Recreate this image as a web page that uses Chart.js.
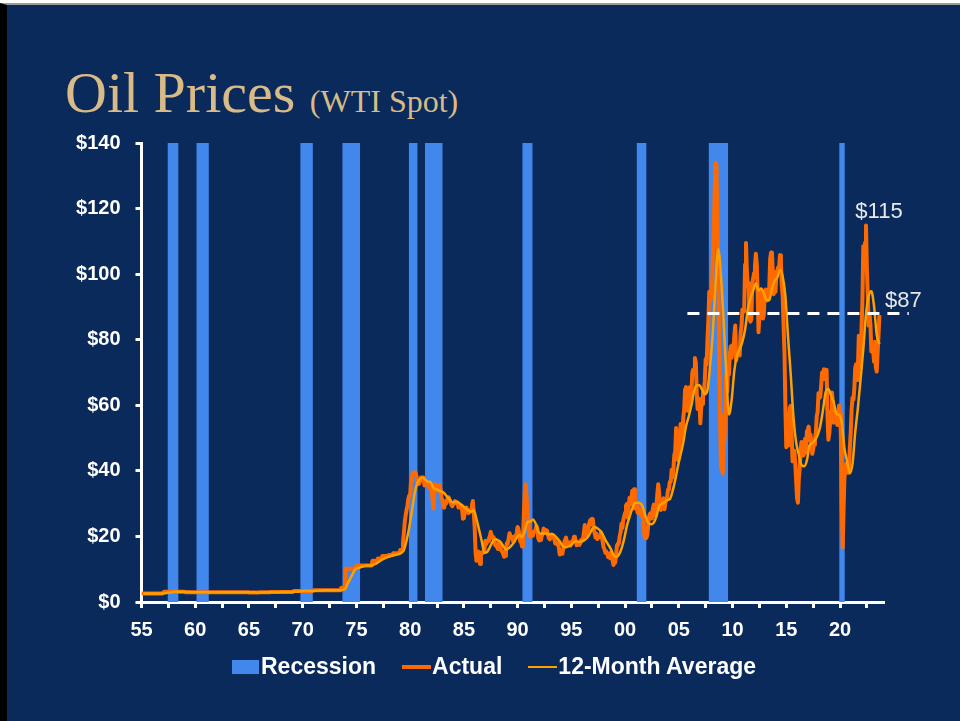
<!DOCTYPE html>
<html>
<head>
<meta charset="utf-8">
<title>Oil Prices (WTI Spot)</title>
<script src="https://cdn.jsdelivr.net/npm/chart.js@4.4.0/dist/chart.umd.min.js"></script>
<style>
  body { margin: 0; background: #fff; width: 960px; height: 721px; overflow: hidden; position: relative; }
  #slide { position: absolute; left: 0; top: 3px; width: 953px; height: 716px; background: #0a2a5c;
           border-left: 7px solid #000; border-top: 2px solid #9a9a9a; }
  #chart { position: absolute; left: 0; top: 0; }
  #title { position: absolute; left: 65px; top: 64px; color: #d8bb87; white-space: nowrap;
           font-family: "Liberation Serif", "Times New Roman", serif; font-size: 58px; line-height: 58px; }
  #title small { font-size: 32px; }
  #legend { position: absolute; left: 232px; top: 655px; color: #fff; white-space: nowrap;
            font: bold 23px/23px "Liberation Sans", Arial, sans-serif; }
  #legend .item { margin-right: 26px; }
  #legend .box, #legend .line { display: inline-block; vertical-align: baseline; }
  #legend .box { width: 27px; height: 14px; margin-right: 2px; }
  #legend .line { width: 29px; margin-right: 1px; }
</style>
</head>
<body>
<div id="slide"></div>
<div id="title">Oil Prices <small>(WTI Spot)</small></div>
<canvas id="chart" width="960" height="721"></canvas>
<div id="legend"></div>
<script>
// x values are decimal years, monthly points start at Jan 1955
const firstYear = 1955;

// recession bands as drawn (decimal years)
const recessionStart = [1957.42, 1960.10, 1969.77, 1973.68, 1979.87, 1981.37, 1990.43, 2001.07, 2007.77, 2019.92];
const recessionEnd   = [1958.45, 1961.27, 1970.95, 1975.35, 1980.70, 1983.03, 1991.40, 2002.00, 2009.60, 2020.45];

// WTI spot, monthly, one row per year, Jan 1955 .. Sep 2023
const actualPrices = [
  2.57,2.57,2.57,2.57,2.57,2.57,2.57,2.57,2.57,2.57,2.57,2.57,
  2.57,2.57,2.57,2.57,2.57,2.57,2.57,2.57,2.57,2.57,2.57,2.57,
  2.57,3.09,3.09,3.09,3.09,3.09,3.09,3.09,3.09,3.09,3.09,3.09,
  3.09,3.09,3.09,3.09,3.09,3.09,3.09,3.09,3.09,3.09,3.09,3.09,
  3.09,2.97,2.97,2.97,2.97,2.97,2.97,2.97,2.97,2.97,2.97,2.97,
  2.97,2.97,2.97,2.97,2.97,2.97,2.97,2.97,2.97,2.97,2.97,2.97, // 60
  2.97,2.97,2.97,2.97,2.97,2.97,2.97,2.97,2.97,2.97,2.97,2.97,
  2.97,2.97,2.97,2.97,2.97,2.97,2.97,2.97,2.97,2.97,2.97,2.97,
  2.97,2.97,2.97,2.97,2.97,2.97,2.97,2.97,2.97,2.97,2.97,2.97,
  2.97,2.97,2.97,2.97,2.97,2.97,2.97,2.97,2.97,2.97,2.97,2.97,
  2.92,2.92,2.92,2.92,2.92,2.92,2.92,2.92,2.92,2.92,2.92,2.92, // 65
  2.94,2.94,2.94,2.94,2.94,2.94,2.94,2.94,2.94,2.94,2.94,2.94,
  3.03,3.03,3.03,3.03,3.03,3.03,3.03,3.03,3.03,3.03,3.03,3.03,
  3.07,3.07,3.07,3.07,3.07,3.07,3.07,3.07,3.07,3.07,3.07,3.07,
  3.07,3.07,3.35,3.35,3.35,3.35,3.35,3.35,3.35,3.35,3.35,3.35,
  3.35,3.35,3.35,3.35,3.35,3.35,3.35,3.35,3.35,3.35,3.35,3.35, // 70
  3.56,3.56,3.56,3.56,3.56,3.56,3.56,3.56,3.56,3.56,3.56,3.56,
  3.56,3.56,3.56,3.56,3.56,3.56,3.56,3.56,3.56,3.56,3.56,3.56,
  3.56,3.56,3.56,3.56,3.56,3.56,3.56,4.31,4.31,4.31,4.31,4.31,
  10.11,10.11,10.11,10.11,10.11,10.11,10.11,10.11,10.11,10.11,10.11,10.11,
  11.16,11.16,11.16,11.16,11.16,11.16,11.16,11.16,11.16,11.16,11.16,11.16, // 75
  11.16,11.16,11.16,11.16,11.16,11.16,12.6,12.6,12.6,12.6,12.6,12.6,
  13.3,13.3,13.3,13.3,13.3,14.0,14.0,14.0,14.0,14.0,14.0,14.0,
  14.3,14.3,14.3,14.3,14.3,14.85,14.85,14.85,14.85,14.85,14.85,14.85,
  14.85,15.85,15.85,15.85,18.1,21.0,24.5,26.5,28.0,29.5,31.5,32.5,
  32.5,37.0,38.0,39.5,39.5,39.5,39.5,38.5,36.5,36.0,36.0,37.0, // 80
  38.0,38.0,38.0,38.0,35.5,36.0,36.0,36.0,36.0,35.0,36.0,35.0,
  33.9,31.6,28.5,33.5,35.9,35.1,34.2,34.0,35.6,35.7,34.2,31.7,
  31.2,29.0,28.8,30.6,30.0,31.0,31.7,31.9,31.1,30.4,29.8,29.2,
  29.7,30.1,30.8,30.6,30.5,30.0,28.8,29.3,29.3,28.8,28.1,25.4,
  25.6,27.3,28.2,28.8,27.6,27.1,27.3,27.8,28.3,29.5,30.8,27.2, // 85
  22.9,15.4,12.6,12.8,15.4,13.4,11.6,15.1,14.9,14.9,15.2,16.1,
  18.7,17.7,18.3,18.6,19.4,20.0,21.4,20.3,19.5,19.8,18.9,17.3,
  17.1,16.8,16.2,17.9,17.4,16.5,15.5,15.5,14.5,13.8,14.0,16.3,
  18.0,17.8,19.4,21.0,20.0,20.0,19.6,18.4,19.6,20.1,19.8,21.1,
  22.9,22.1,20.4,18.4,18.2,16.9,18.6,27.2,33.7,35.9,32.3,27.3, // 90
  25.2,20.5,19.9,20.8,21.2,20.2,21.4,21.7,21.9,23.2,22.5,19.5,
  18.8,19.0,18.9,20.2,20.9,22.4,21.8,21.4,21.9,21.7,20.3,19.4,
  19.1,20.1,20.3,20.3,19.9,19.1,17.9,18.0,17.5,18.2,16.7,14.5,
  15.0,14.8,14.7,16.4,17.9,19.1,19.7,18.4,17.5,17.7,18.1,17.2,
  18.0,18.6,18.5,19.9,19.7,18.5,17.3,18.0,18.2,17.4,18.0,19.0, // 95
  18.9,19.1,21.3,23.5,21.2,20.4,21.3,22.0,24.0,24.9,23.7,25.4,
  25.2,22.2,21.0,19.7,20.8,19.2,19.6,19.9,19.8,21.3,20.2,18.3,
  16.7,16.1,15.0,15.4,14.9,13.7,14.1,13.4,15.0,14.4,12.9,11.3,
  12.5,12.0,14.7,17.3,17.8,17.9,20.1,21.3,23.9,22.6,25.0,26.1,
  27.2,29.4,29.9,25.7,28.8,31.8,29.7,31.3,33.9,33.1,34.4,28.5, // 00
  29.6,29.6,27.2,27.4,28.6,27.6,26.4,27.4,26.2,22.2,19.6,19.4,
  19.7,20.7,24.4,26.3,27.0,25.5,26.9,28.4,29.7,28.9,26.3,29.4,
  32.9,35.9,33.5,28.3,28.1,30.7,30.8,31.6,28.3,30.3,31.1,32.2,
  34.3,34.7,36.7,36.7,40.3,38.0,40.7,44.9,45.9,53.1,48.5,43.3,
  46.8,48.0,54.3,53.0,49.8,56.3,58.7,64.9,65.6,62.4,58.3,59.4, // 05
  65.5,61.6,62.9,69.7,70.9,70.9,74.4,73.0,63.8,58.9,59.4,62.0,
  54.5,59.3,60.4,64.0,63.5,67.5,74.1,72.4,79.9,86.0,94.6,91.7,
  93.0,95.4,105.4,112.6,125.4,133.9,133.4,116.7,104.1,76.6,57.3,41.1,
  41.7,39.1,47.9,49.7,59.0,69.6,64.2,71.1,69.4,75.7,78.0,74.5,
  78.3,76.4,81.2,84.3,73.7,75.3,76.3,76.6,75.2,81.9,84.3,89.2, // 10
  89.2,88.6,102.9,109.5,100.9,96.3,97.3,86.3,85.5,86.3,97.2,98.6,
  100.3,102.2,106.2,103.3,94.7,82.3,87.9,94.1,94.5,89.5,86.5,87.9,
  94.8,95.3,92.9,92.0,94.5,95.8,104.6,106.6,106.3,100.5,93.9,97.6,
  94.6,100.8,100.8,102.1,102.2,105.8,103.6,96.5,93.2,84.4,75.8,59.3,
  47.2,50.6,47.8,54.5,59.3,59.8,50.9,42.9,45.5,46.2,42.4,37.2, // 15
  31.7,30.3,37.6,40.8,46.7,48.8,44.7,44.7,45.2,49.8,45.7,52.0,
  52.5,53.5,49.3,51.1,48.5,45.2,46.6,48.0,49.8,51.6,56.6,57.9,
  63.7,62.2,62.7,66.3,70.0,67.9,71.0,68.1,70.2,70.8,57.0,49.5,
  51.4,55.0,58.2,63.9,60.8,54.7,57.4,54.8,57.0,54.0,57.0,59.9,
  57.5,50.5,29.2,16.6,28.5,38.3,40.7,42.3,39.6,39.4,41.4,47.0, // 20
  52.0,59.0,62.3,61.7,65.2,71.4,72.5,67.7,71.5,81.2,79.2,71.7,
  83.2,91.6,108.5,101.8,109.6,114.8,101.6,93.7,84.3,87.6,84.4,76.4,
  78.1,76.8,73.3,79.4,71.6,70.3,76.1,81.4,87.5
];

// 12-month average, read at Mar / Jun / Sep / Dec of each year
const averagePrices = [
  2.57,2.57,2.57,2.57,   2.57,2.57,2.57,2.57,   2.66,2.79,2.92,3.05,   3.09,3.09,3.09,3.09,
  3.07,3.04,3.01,2.98,   2.97,2.97,2.97,2.97,   2.97,2.97,2.97,2.97,   2.97,2.97,2.97,2.97,
  2.97,2.97,2.97,2.97,   2.97,2.97,2.97,2.97,   2.96,2.95,2.93,2.92,   2.93,2.93,2.94,2.94,
  2.96,2.98,3.01,3.03,   3.04,3.05,3.06,3.07,   3.09,3.16,3.23,3.30,   3.35,3.35,3.35,3.35,
  3.40,3.46,3.51,3.56,   3.56,3.56,3.56,3.56,   3.56,3.56,3.69,3.87,   5.51,7.15,8.66,10.11,
  10.37,10.64,10.90,11.16, 11.16,11.16,11.52,11.88, 12.42,13.0,13.36,13.71, 13.96,14.2,14.41,14.62,
  14.93,15.88,18.75,22.83, 27.9,33.2,36.2,37.5,  38.0,37.3,36.7,36.5,   34.8,34.4,34.0,33.7,
  33.2,32.2,31.4,30.4,   30.5,30.5,29.9,29.3,   28.5,27.9,27.5,28.0,   25.4,22.0,18.5,15.0,
  15.3,16.7,18.3,19.2,   18.8,18.3,17.0,16.0,   16.4,17.2,18.2,19.6,   20.4,19.8,21.6,24.5,
  24.5,25.2,24.0,21.5,   20.8,20.9,20.9,20.6,   20.8,20.4,19.5,18.5,   17.2,16.7,16.9,17.2,
  18.1,18.5,18.3,18.4,   18.8,19.4,20.5,22.1,   22.9,22.5,21.8,20.6,   18.9,17.6,16.2,14.4,
  13.7,14.4,16.3,19.3,   23.2,26.0,28.5,30.3,   30.3,30.1,28.8,25.9,   24.1,23.7,24.2,26.1,
  29.2,29.9,30.4,31.1,   31.4,33.8,37.2,41.4,   45.0,48.7,53.5,56.5,   59.9,64.2,66.1,66.1,
  64.8,63.4,64.7,72.3,   82.3,97.0,107.7,99.6,  85.8,69.7,57.2,61.7,   70.6,75.2,77.1,79.4,
  83.1,89.2,92.7,94.9,   97.2,95.0,95.6,94.1,   92.0,92.1,95.6,97.9,   99.0,101.3,99.3,93.3,
  80.7,69.3,56.5,48.7,   44.9,41.8,41.4,43.2,   47.8,48.5,49.3,50.9,   53.7,58.6,64.0,65.0,
  63.0,60.9,57.5,57.0,   54.7,46.7,42.8,39.3,   42.3,51.8,59.3,68.0,   77.1,87.8,93.4,94.8,
  90.2,81.5,78.7
];

// dashed reference level labelled $87
const refLevel = 88;
const refFrom = 2005.8;
const refTo = 2026.4;

const yMin = 0, yMax = 140, yStep = 20;
const xMin = 1955, xMax = 2024, xStep = 2.5;

const navy = '#0a2a5c';
const recessionColor = '#4287ec';
const actualColor = '#ff6a00';
const averageColor = '#ffa000';
const fontFamily = '"Liberation Sans", Arial, sans-serif';

function main() {
    const canvas = document.querySelector('#chart');

    // each band: two points at the top of the axis, then a gap so fills stay separate
    const recessionPoints = [];
    recessionStart.forEach((start, i) => {
        recessionPoints.push({ x: start, y: yMax }, { x: recessionEnd[i], y: yMax }, { x: recessionEnd[i], y: null });
    });

    const notesPlugin = {
        id: 'notes',
        afterDatasetsDraw(chart, args, opts) {
            const { ctx, scales: { x, y } } = chart;
            ctx.save();
            ctx.font = opts.font;
            ctx.fillStyle = opts.color;
            ctx.textBaseline = 'alphabetic';
            opts.items.forEach(n => {
                ctx.textAlign = n.align;
                ctx.fillText(n.text, x.getPixelForValue(n.x) + n.dx, y.getPixelForValue(n.y) + n.dy);
            });
            ctx.restore();
        }
    };

    const chart = new Chart(canvas.getContext('2d'), {
        type: 'line',
        data: {
            datasets: [
                {
                    label: 'Recession',
                    data: recessionPoints,
                    fill: 'origin',
                    backgroundColor: recessionColor,
                    borderWidth: 0,
                    pointRadius: 0,
                    spanGaps: false,
                    order: 3
                },
                {
                    label: 'Actual',
                    data: actualPrices.map((v, i) => ({ x: firstYear + i / 12, y: v })),
                    borderColor: actualColor,
                    borderWidth: 4,
                    borderJoinStyle: 'round',
                    pointRadius: 0,
                    order: 2
                },
                {
                    label: '12-Month Average',
                    data: averagePrices.map((v, i) => ({ x: firstYear + (3 * i + 2) / 12, y: v })),
                    borderColor: averageColor,
                    borderWidth: 2.5,
                    cubicInterpolationMode: 'monotone',
                    pointRadius: 0,
                    order: 1
                },
                {
                    data: [{ x: refFrom, y: refLevel }, { x: refTo, y: refLevel }],
                    borderColor: '#ffffff',
                    borderWidth: 3,
                    borderDash: [12, 8],
                    pointRadius: 0,
                    clip: false,
                    order: 0
                }
            ]
        },
        options: {
            responsive: false,
            animation: false,
            devicePixelRatio: 1,
            layout: { padding: { top: 143, left: 0, right: 77, bottom: 0 } },
            plugins: {
                legend: { display: false },
                tooltip: { enabled: false },
                notes: {
                    font: '22px ' + fontFamily,
                    color: '#e8e8e8',
                    items: [
                        { text: '$115', x: 2022.42, y: 114.8, dx: 13, dy: -8, align: 'center' },
                        { text: '$87', x: 2024, y: refLevel, dx: 2, dy: -6, align: 'left' }
                    ]
                }
            },
            scales: {
                x: {
                    type: 'linear',
                    min: xMin,
                    max: xMax,
                    afterFit: scale => { scale.height = 119; },
                    border: { display: true, color: '#ffffff', width: 3 },
                    grid: { drawOnChartArea: false, drawTicks: true, tickLength: 6, color: '#ffffff', lineWidth: 3 },
                    ticks: {
                        stepSize: xStep,
                        includeBounds: false,
                        autoSkip: false,
                        maxRotation: 0,
                        padding: 10,
                        color: '#ffffff',
                        font: { family: fontFamily, size: 20, weight: 'bold' },
                        callback: v => (v % 5 === 0 ? String(v % 100).padStart(2, '0') : '')
                    }
                },
                y: {
                    min: yMin,
                    max: yMax,
                    afterFit: scale => { scale.width = 141.5; },
                    border: { display: true, color: '#ffffff', width: 3 },
                    grid: { drawOnChartArea: false, drawTicks: true, tickLength: 6, color: '#ffffff', lineWidth: 3 },
                    ticks: {
                        stepSize: yStep,
                        padding: 15,
                        color: '#ffffff',
                        font: { family: fontFamily, size: 20, weight: 'bold' },
                        callback: v => '$' + v
                    }
                }
            }
        },
        plugins: [notesPlugin]
    });

    // legend below the plot, built from the chart's own datasets
    const legend = document.querySelector('#legend');
    chart.data.datasets.filter(d => d.label).forEach(d => {
        const item = document.createElement('span');
        item.className = 'item';
        const swatch = document.createElement('span');
        if (d.fill) {
            swatch.className = 'box';
            swatch.style.background = d.backgroundColor;
        } else {
            swatch.className = 'line';
            swatch.style.background = d.borderColor;
            swatch.style.height = d.borderWidth + 'px';
            swatch.style.marginBottom = (7 - d.borderWidth / 2) + 'px';
        }
        item.appendChild(swatch);
        item.appendChild(document.createTextNode(d.label));
        legend.appendChild(item);
    });
}

main()
</script>
</body>
</html>
